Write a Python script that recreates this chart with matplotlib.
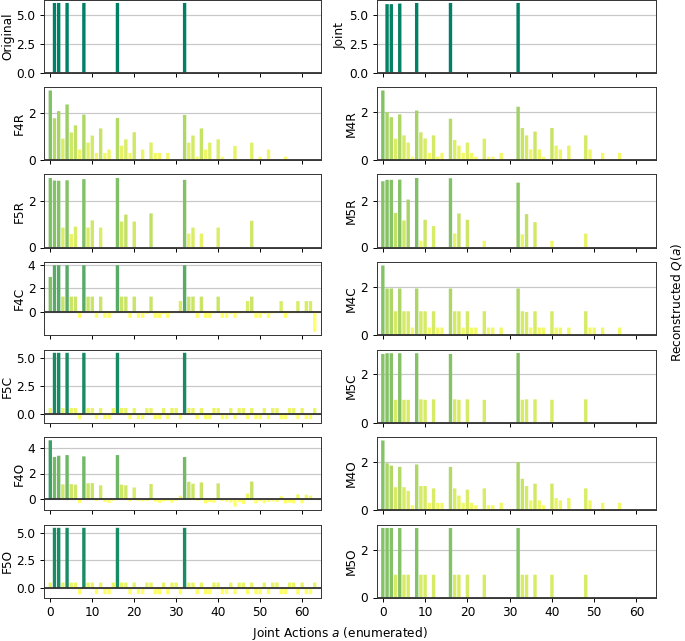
import numpy as np
import matplotlib
matplotlib.use("Agg")
import matplotlib.pyplot as plt
from matplotlib.colors import Normalize

actions = np.arange(64)

original = [0, 6, 6, 0, 6, 0, 0, 0, 6, 0, 0, 0, 0, 0, 0, 0,
            6, 0, 0, 0, 0, 0, 0, 0, 0, 0, 0, 0, 0, 0, 0, 0,
            6, 0, 0, 0, 0, 0, 0, 0, 0, 0, 0, 0, 0, 0, 0, 0,
            0, 0, 0, 0, 0, 0, 0, 0, 0, 0, 0, 0, 0, 0, 0, 0]
joint = [0, 5.9, 5.9, 0, 5.95, 0, 0, 0, 6, 0, 0, 0, 0, 0, 0, 0,
         6, 0, 0, 0, 0, 0, 0, 0, 0, 0, 0, 0, 0, 0, 0, 0,
         6, 0, 0, 0, 0, 0, 0, 0, 0, 0, 0, 0, 0, 0, 0, 0,
         0, 0, 0, 0, 0, 0, 0, 0, 0, 0, 0, 0, 0, 0, 0, 0]
f4r = [2.93, 1.76, 2.06, 0.90, 2.34, 1.16, 1.46, 0.44, 1.91, 0.73, 1.03, 0.30, 1.33, 0.30, 0.44, 0,
       1.77, 0.60, 0.87, 0.30, 1.17, 0, 0.44, 0, 0.74, 0.30, 0.30, 0, 0.30, 0, 0, 0,
       1.90, 0.73, 1.03, 0.14, 1.33, 0.44, 0.73, 0, 0.87, 0.14, 0, 0, 0.59, 0, 0, 0,
       0.73, 0, 0.14, 0, 0.44, 0, 0, 0, 0.14, 0, 0, 0, 0, 0, 0, 0]
m4r = [2.91, 2.00, 1.79, 0.89, 1.91, 1.03, 0.73, 0.14, 2.07, 1.16, 0.90, 0.30, 1.03, 0.14, 0.30, 0,
       1.73, 0.84, 0.60, 0.30, 0.73, 0.30, 0.14, 0, 0.89, 0.14, 0.14, 0, 0.30, 0, 0, 0,
       2.23, 1.34, 1.03, 0.44, 1.19, 0.44, 0.14, 0, 1.34, 0.60, 0.44, 0, 0.60, 0, 0, 0,
       1.03, 0.44, 0, 0, 0.30, 0, 0, 0, 0.30, 0, 0, 0, 0, 0, 0, 0]
f5r = [3.00, 2.89, 2.88, 0.86, 2.90, 0.58, 0.90, 0, 2.95, 0.86, 1.17, 0, 0.86, 0, 0, 0,
       3.00, 1.12, 1.42, 0, 1.12, 0, 0, 0, 1.47, 0, 0, 0, 0, 0, 0, 0,
       2.92, 0.60, 0.86, 0, 0.60, 0, 0, 0, 0.86, 0, 0, 0, 0, 0, 0, 0,
       1.15, 0, 0, 0, 0, 0, 0, 0, 0, 0, 0, 0, 0, 0, 0, 0]
m5r = [2.82, 2.88, 2.88, 1.47, 2.89, 1.15, 2.04, 0, 2.96, 0.29, 1.18, 0, 0.91, 0, 0, 0,
       2.95, 0.60, 1.45, 0, 1.18, 0, 0, 0, 0.29, 0, 0, 0, 0, 0, 0, 0,
       2.76, 0.56, 1.42, 0, 1.08, 0, 0, 0, 0.29, 0, 0, 0, 0, 0, 0, 0,
       0.59, 0, 0, 0, 0, 0, 0, 0, 0, 0, 0, 0, 0, 0, 0, 0]
f4c = [2.96, 3.95, 3.95, 1.28, 3.95, 1.28, 1.28, -0.53, 3.95, 1.28, 1.28, -0.53, 1.28, -0.53, -0.53, -0.15,
       3.95, 1.28, 1.28, -0.53, 1.28, -0.53, -0.53, -0.20, 1.28, -0.53, -0.53, -0.20, -0.53, -0.15, -0.10, 0.90,
       3.95, 1.28, 1.28, -0.53, 1.28, -0.53, -0.53, -0.15, 1.28, -0.53, -0.53, -0.20, -0.53, -0.15, -0.10, 0.90,
       1.28, -0.53, -0.53, -0.20, -0.53, -0.15, -0.10, 0.90, -0.53, -0.15, -0.10, 0.90, -0.10, 0.90, 0.90, -1.71]
m4c = [2.90, 1.94, 1.94, 0.99, 1.94, 0.99, 0.99, 0.31, 1.94, 0.99, 0.99, 0.31, 0.99, 0.31, 0.31, 0,
       1.94, 0.99, 0.99, 0.31, 0.99, 0.31, 0.31, 0, 0.99, 0.31, 0.31, 0, 0.31, 0, 0, 0,
       1.94, 0.99, 0.96, 0.31, 0.99, 0.31, 0.31, 0, 0.99, 0.31, 0.31, 0, 0.31, 0, 0, 0,
       0.99, 0.31, 0.31, 0, 0.31, 0, 0, 0, 0.31, 0, 0, 0, 0, 0, 0, 0]
f5c = [0.5, 5.45, 5.45, 0.5, 5.45, 0.5, 0.5, -0.5, 5.45, 0.5, 0.5, -0.5, 0.5, -0.5, -0.5, 0.5,
       5.45, 0.5, 0.5, -0.5, 0.5, -0.5, -0.5, 0.5, 0.5, -0.5, -0.5, 0.5, -0.5, 0.5, 0.5, -0.5,
       5.45, 0.5, 0.5, -0.5, 0.5, -0.5, -0.5, 0.5, 0.5, -0.5, -0.5, 0.5, -0.5, 0.5, 0.5, -0.5,
       0.5, -0.5, -0.5, 0.5, -0.5, 0.5, 0.5, -0.5, -0.5, 0.5, 0.5, -0.5, 0.5, -0.5, -0.5, 0.5]
m5c = [2.84, 2.87, 2.87, 0.94, 2.87, 0.94, 0.94, 0, 2.87, 0.96, 0.94, 0, 0.96, 0, 0, 0,
       2.84, 0.96, 0.94, 0, 0.96, 0, 0, 0, 0.94, 0, 0, 0, 0, 0, 0, 0,
       2.88, 0.94, 0.96, 0, 0.96, 0, 0, 0, 0.94, 0, 0, 0, 0, 0, 0, 0,
       0.96, 0, 0, 0, 0, 0, 0, 0, 0, 0, 0, 0, 0, 0, 0, 0]
f4o = [4.56, 3.27, 3.37, 1.16, 3.42, 1.18, 1.14, -0.27, 3.32, 1.24, 1.26, -0.12, 1.09, -0.20, -0.27, -0.10,
       3.42, 1.14, 1.09, -0.15, 0.92, -0.12, -0.15, -0.12, 1.19, -0.17, -0.25, -0.15, -0.10, -0.25, -0.12, 0.29,
       3.27, 1.36, 1.21, -0.10, 1.31, -0.30, -0.20, -0.25, 1.24, -0.12, -0.18, -0.25, -0.56, -0.20, -0.35, 0.45,
       1.38, -0.30, -0.15, -0.30, -0.20, -0.15, -0.20, 0.25, -0.30, -0.25, -0.30, 0.39, -0.30, 0.36, 0.29, 0.02]
m4o = [2.90, 1.95, 1.85, 0.95, 1.80, 0.95, 0.80, 0.20, 1.90, 1.00, 1.00, 0.30, 0.90, 0.30, 0.30, 0,
       1.80, 0.90, 0.60, 0.30, 0.85, 0.30, 0.20, 0, 0.90, 0.20, 0.20, 0, 0.30, 0, 0, 0,
       2.00, 1.30, 1.00, 0.40, 1.10, 0.40, 0.20, 0, 1.10, 0.50, 0.40, 0, 0.50, 0, 0, 0,
       0.90, 0.40, 0, 0, 0.30, 0, 0, 0, 0.30, 0, 0, 0, 0, 0, 0, 0]
f5o = [0.5, 5.43, 5.43, 0.5, 5.43, 0.5, 0.5, -0.55, 5.43, 0.5, 0.5, -0.55, 0.5, -0.55, -0.55, 0.5,
       5.43, 0.5, 0.5, -0.55, 0.5, -0.55, -0.55, 0.5, 0.5, -0.55, -0.55, 0.5, -0.55, 0.5, 0.5, -0.55,
       5.43, 0.5, 0.5, -0.55, 0.5, -0.55, -0.55, 0.5, 0.5, -0.55, -0.55, 0.5, -0.55, 0.5, 0.5, -0.55,
       0.5, -0.55, -0.55, 0.5, -0.55, 0.5, 0.5, -0.55, -0.55, 0.5, 0.5, -0.55, 0.5, -0.55, -0.55, 0.5]
m5o = [2.90, 2.90, 2.90, 0.95, 2.90, 0.95, 0.95, 0, 2.90, 0.95, 0.95, 0, 0.95, 0, 0, 0,
       2.90, 0.95, 0.95, 0, 0.95, 0, 0, 0, 0.95, 0, 0, 0, 0, 0, 0, 0,
       2.90, 0.95, 0.95, 0, 0.95, 0, 0, 0, 0.95, 0, 0, 0, 0, 0, 0, 0,
       0.95, 0, 0, 0, 0, 0, 0, 0, 0, 0, 0, 0, 0, 0, 0, 0]

left_labels = ["Original", "F4R", "F5R", "F4C", "F5C", "F4O", "F5O"]
right_labels = ["Joint", "M4R", "M5R", "M4C", "M5C", "M4O", "M5O"]
left_data = [original, f4r, f5r, f4c, f5c, f4o, f5o]
right_data = [joint, m4r, m5r, m4c, m5c, m4o, m5o]
left_yticks = [[0, 2.5, 5.0], [0, 2], [0, 2], [0, 2, 4], [0, 2.5, 5.0], [0, 2, 4], [0, 2.5, 5.0]]
right_yticks = [[0, 2.5, 5.0], [0, 2], [0, 2], [0, 2], [0, 2], [0, 2], [0, 2]]

W, H = 685, 641
DPI = 87
fig = plt.figure(figsize=(W / DPI, H / DPI), dpi=DPI)
cmap = plt.get_cmap("summer_r")
norm = Normalize(vmin=0, vmax=6, clip=True)

col_lefts = [44, 376.5]
col_widths = [277, 279]
row_h = 73
axes_cols = [[], []]
for c, (labels, datas, yts) in enumerate([(left_labels, left_data, left_yticks),
                                          (right_labels, right_data, right_yticks)]):
    for r in range(7):
        bottom_px = 72.5 + 87.5 * r
        ax = fig.add_axes([col_lefts[c] / W, 1 - bottom_px / H, col_widths[c] / W, row_h / H])
        vals = np.array(datas[r], dtype=float)
        ax.set_axisbelow(True)
        ax.grid(axis="y", color="#c8c8c8", linewidth=1)
        bars = ax.bar(actions, vals, width=0.8, color=cmap(norm(vals)))
        for b in bars:
            b.set_snap(False)
        ax.axhline(0, color="#333333", linewidth=1.5)
        ax.set_xlim(-1.5, 64.5)
        ax.set_xticks(np.arange(0, 61, 10))
        ax.set_yticks(yts[r])
        if r < 6:
            ax.set_xticklabels([])
        ax.set_ylabel(labels[r], labelpad=2)
        for s in ax.spines.values():
            s.set_color("#333333")
        axes_cols[c].append(ax)

fig.align_ylabels(axes_cols[0])
fig.align_ylabels(axes_cols[1])

fig.text(340 / W, 1 - 633 / H, "Joint Actions $a$ (enumerated)", ha="center", va="center")
fig.text(676 / W, 1 - 302 / H, "Reconstructed $Q(a)$", ha="center", va="center", rotation=90)

fig.savefig("out.png", dpi=DPI)
